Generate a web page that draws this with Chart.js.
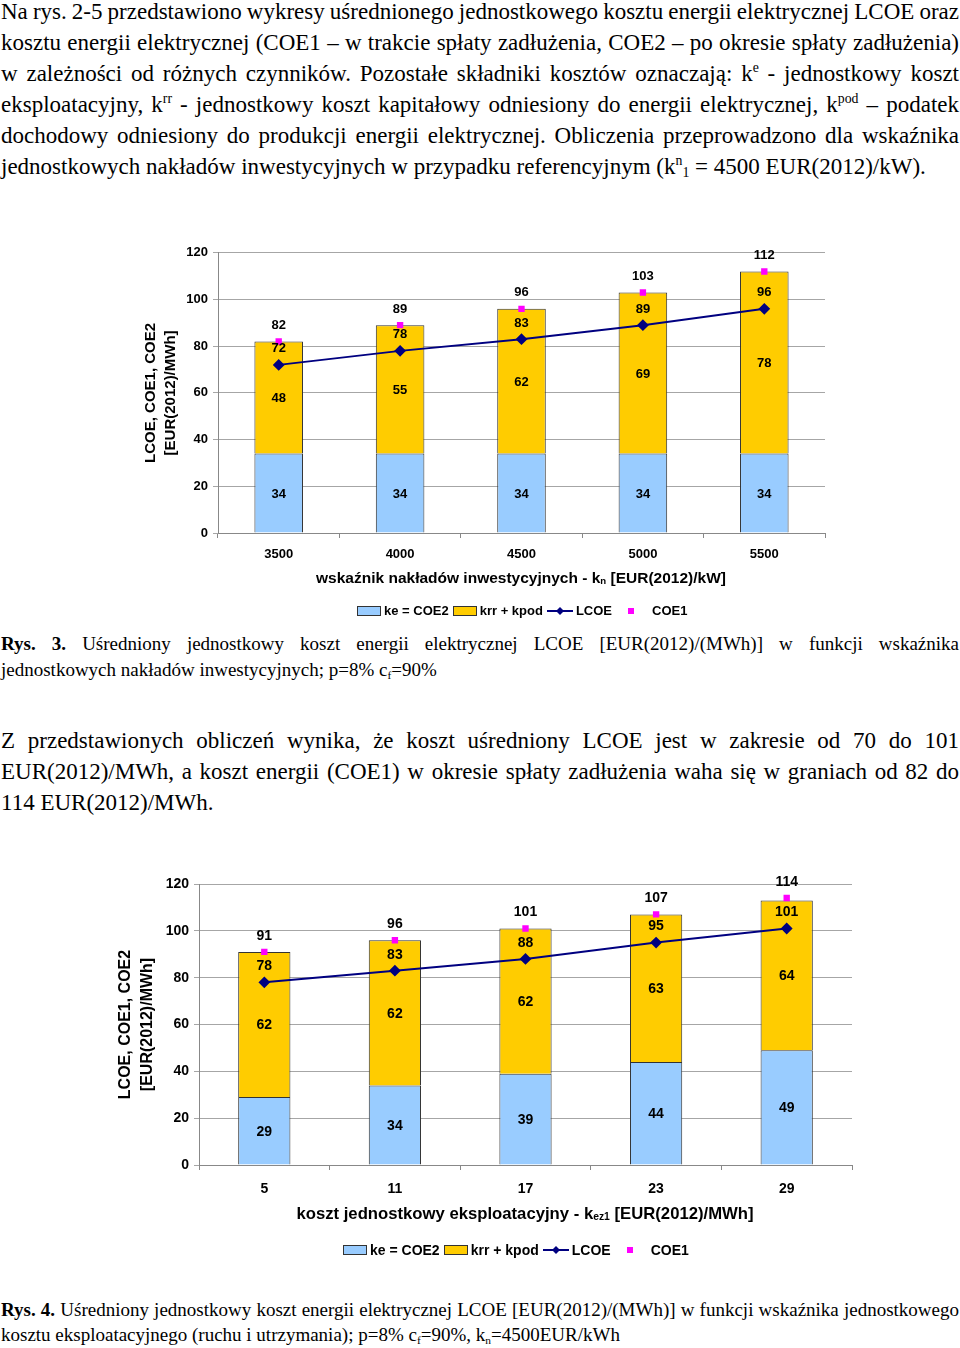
<!DOCTYPE html>
<html lang="pl">
<head>
<meta charset="utf-8">
<script src="https://cdn.jsdelivr.net/npm/chart.js@4.4.0/dist/chart.umd.min.js"></script>
<style>
  html, body { margin: 0; padding: 0; background: #fff; }
  body { width: 960px; height: 1348px; position: relative; overflow: hidden; color: #000;
         font-family: "Liberation Serif", "Times New Roman", serif; }
  .txt { position: absolute; left: 1px; width: 958px; }
  .txt div { text-align: justify; text-align-last: justify; word-spacing: -3px; }
  .txt div.last { text-align-last: left; word-spacing: 0; }
  .p { font-size: 23px; line-height: 31px; }
  .cap { font-size: 19px; }
  .sup { font-size: 0.6em; vertical-align: 0.65em; line-height: 0; }
  .sub { font-size: 0.6em; vertical-align: -0.25em; line-height: 0; }
  canvas { position: absolute; }
  .xt { position: absolute; white-space: nowrap; transform: translateX(-50%);
        font-family: "Liberation Sans", Arial, sans-serif; font-weight: bold; }
  .xt .s { font-size: 0.62em; vertical-align: -0.1em; }
  .legend { position: absolute; display: flex; align-items: center; white-space: nowrap;
            font-family: "Liberation Sans", Arial, sans-serif; font-weight: bold; }
  .legend .it { display: flex; align-items: center; margin-right: 4px; }
  .legend .box { display: inline-block; width: 22px; height: 8px; border: 1px solid #333; margin-right: 3px; }
  .legend svg { margin-right: 3px; }
</style>
</head>
<body>

<div class="txt p" style="top:-4px">
  <div>Na rys. 2-5 przedstawiono wykresy uśrednionego jednostkowego kosztu energii elektrycznej LCOE oraz</div>
  <div>kosztu energii elektrycznej (COE1 – w trakcie spłaty zadłużenia, COE2 – po okresie spłaty zadłużenia)</div>
  <div>w zależności od różnych czynników. Pozostałe składniki kosztów oznaczają: k<span class="sup">e</span> - jednostkowy koszt</div>
  <div>eksploatacyjny, k<span class="sup">rr</span> - jednostkowy koszt kapitałowy odniesiony do energii elektrycznej, k<span class="sup">pod</span> – podatek</div>
  <div>dochodowy odniesiony do produkcji energii elektrycznej. Obliczenia przeprowadzono dla wskaźnika</div>
  <div class="last">jednostkowych nakładów inwestycyjnych w przypadku referencyjnym (k<span class="sup">n</span><span class="sub">1</span> = 4500 EUR(2012)/kW).</div>
</div>

<canvas id="chart1" width="740" height="360" style="left:100px; top:240px"></canvas>
<div class="xt" style="left:521px; top:569px; font-size:15.5px; line-height:18px">wskaźnik nakładów inwestycyjnych - k<span class="s">n</span> [EUR(2012)/kW]</div>
<div class="legend" id="legend1" style="left:357px; top:602px; font-size:13px; line-height:18px"></div>

<div class="txt cap" style="top:631px; line-height:26px">
  <div><b>Rys. 3.</b> Uśredniony jednostkowy koszt energii elektrycznej LCOE [EUR(2012)/(MWh)] w funkcji wskaźnika</div>
  <div class="last">jednostkowych nakładów inwestycyjnych; p=8% c<span class="sub">f</span>=90%</div>
</div>

<div class="txt p" style="top:725px">
  <div>Z przedstawionych obliczeń wynika, że koszt uśredniony LCOE jest w zakresie od 70 do 101</div>
  <div>EUR(2012)/MWh, a koszt energii (COE1) w okresie spłaty zadłużenia waha się w graniach od 82 do</div>
  <div class="last">114 EUR(2012)/MWh.</div>
</div>

<canvas id="chart2" width="790" height="360" style="left:80px; top:870px"></canvas>
<div class="xt" style="left:525px; top:1204px; font-size:16.7px; line-height:20px">koszt jednostkowy eksploatacyjny - k<span class="s">ez1</span> [EUR(2012)/MWh]</div>
<div class="legend" id="legend2" style="left:343px; top:1240px; font-size:14px; line-height:20px"></div>

<div class="txt cap" style="top:1297px; line-height:25px">
  <div><b>Rys. 4.</b> Uśredniony jednostkowy koszt energii elektrycznej LCOE [EUR(2012)/(MWh)] w funkcji wskaźnika jednostkowego</div>
  <div class="last">kosztu eksploatacyjnego (ruchu i utrzymania); p=8% c<span class="sub">f</span>=90%, k<span class="sub">n</span>=4500EUR/kWh</div>
</div>

<script>
// wykres 1 - wskaźnik nakładów inwestycyjnych
const kn = ['3500', '4000', '4500', '5000', '5500'];
const ke1 = [34, 34, 34, 34, 34];
const krr1 = [48, 55, 62, 69, 78];
const lcoe1 = [72, 78, 83, 89, 96];
const coe1a = [82, 89, 96, 103, 112];

// wykres 2 - koszt jednostkowy eksploatacyjny
const kez = ['5', '11', '17', '23', '29'];
const ke2 = [29, 34, 39, 44, 49];
const krr2 = [62, 62, 62, 63, 64];
const lcoe2 = [78, 83, 88, 95, 101];
const coe1b = [91, 96, 101, 107, 114];

const yMin = 0, yMax = 120, yStep = 20;
const seriesNames = ['ke = COE2', 'krr + kpod', 'LCOE', 'COE1'];

const BLUE = '#99ccff', YELLOW = '#ffcc00', NAVY = '#000080', MAGENTA = '#ff00ff';
const SANS = '"Liberation Sans", Arial, sans-serif';

// podpisy wartości nad punktami i w środku słupków
const valueLabels = {
    id: 'valueLabels',
    afterDatasetsDraw(chart, args, opts) {
        const ctx = chart.ctx;
        ctx.save();
        ctx.font = 'bold ' + opts.size + 'px ' + SANS;
        ctx.fillStyle = '#000';
        ctx.textAlign = 'center';
        ctx.textBaseline = 'middle';
        chart.data.datasets.forEach((ds, i) => {
            const meta = chart.getDatasetMeta(i);
            meta.data.forEach((el, j) => {
                const y = meta.type === 'bar' ? (el.y + el.base) / 2 : el.y - opts.above;
                ctx.fillText(String(ds.data[j]), el.x, y + 1);
            });
        });
        ctx.restore();
    }
};

function makeChart(id, labels, ke, krr, lcoe, coe1, s) {
    const ctx = document.getElementById(id).getContext('2d');
    return new Chart(ctx, {
        type: 'bar',
        data: {
            labels: labels,
            datasets: [
                { label: seriesNames[0], data: ke, backgroundColor: BLUE, borderColor: '#333', borderWidth: 1,
                  stack: 'bars', order: 2, barPercentage: 0.4, categoryPercentage: 1 },
                { label: seriesNames[1], data: krr, backgroundColor: YELLOW, borderColor: '#333', borderWidth: 1,
                  stack: 'bars', order: 2, barPercentage: 0.4, categoryPercentage: 1 },
                { type: 'line', label: seriesNames[2], data: lcoe, borderColor: NAVY, borderWidth: 2,
                  pointStyle: 'rectRot', pointRadius: 4.5, pointBackgroundColor: NAVY, pointBorderColor: NAVY,
                  stack: 'lcoe', order: 1, tension: 0 },
                { type: 'line', label: seriesNames[3], data: coe1, showLine: false,
                  pointStyle: 'rect', pointRadius: 4.5, pointBackgroundColor: MAGENTA, pointBorderColor: MAGENTA,
                  pointBorderWidth: 0, stack: 'coe1', order: 0 }
            ]
        },
        options: {
            responsive: false,
            animation: false,
            layout: { padding: s.pad },
            plugins: {
                legend: { display: false },
                tooltip: { enabled: false },
                valueLabels: { size: s.font, above: s.above }
            },
            scales: {
                x: {
                    stacked: true,
                    offset: true,
                    grid: { offset: true, drawOnChartArea: false, drawTicks: true, tickLength: 5, color: '#888' },
                    border: { color: '#888' },
                    ticks: { color: '#000', padding: s.xPad, font: { family: SANS, size: s.font, weight: 'bold' } },
                    afterFit(sc) { sc.height = s.xHeight; }
                },
                y: {
                    stacked: true,
                    min: yMin, max: yMax,
                    grid: { color: '#a6a6a6', tickLength: 5 },
                    border: { color: '#888' },
                    ticks: { stepSize: yStep, color: '#000', padding: 5, font: { family: SANS, size: s.font, weight: 'bold' } },
                    title: {
                        display: true,
                        text: ['LCOE, COE1, COE2', '[EUR(2012)/MWh]'],
                        color: '#000',
                        padding: { top: s.titlePad, bottom: 0 },
                        font: { family: SANS, size: s.titleSize, weight: 'bold', lineHeight: s.titleLine / s.titleSize }
                    },
                    afterFit(sc) { sc.width = s.yWidth; }
                }
            }
        },
        plugins: [valueLabels]
    });
}

function buildLegend(elId, chart) {
    const el = document.getElementById(elId);
    chart.data.datasets.forEach(ds => {
        const item = document.createElement('span');
        item.className = 'it';
        let sw;
        if (ds.type === 'line' && ds.showLine !== false) {
            sw = '<svg width="26" height="10"><line x1="0" y1="5" x2="26" y2="5" stroke="' + ds.borderColor +
                 '" stroke-width="2"/><polygon points="13,1 17,5 13,9 9,5" fill="' + ds.pointBackgroundColor + '"/></svg>';
        } else if (ds.type === 'line') {
            sw = '<svg width="30" height="10" style="margin-right:6px"><rect x="12" y="2" width="6" height="6" fill="' +
                 ds.pointBackgroundColor + '"/></svg>';
        } else {
            sw = '<span class="box" style="background:' + ds.backgroundColor + '"></span>';
        }
        item.innerHTML = sw + '<span>' + ds.label + '</span>';
        el.appendChild(item);
    });
}

const chart1 = makeChart('chart1', kn, ke1, krr1, lcoe1, coe1a, {
    pad: { left: 0, right: 15, top: 12, bottom: 0 },
    font: 13, above: 17, xPad: 9, xHeight: 67, yWidth: 118,
    titleSize: 15, titleLine: 20, titlePad: 41
});
const chart2 = makeChart('chart2', kez, ke2, krr2, lcoe2, coe1b, {
    pad: { left: 0, right: 18, top: 14, bottom: 0 },
    font: 14, above: 17, xPad: 11, xHeight: 65, yWidth: 119,
    titleSize: 16, titleLine: 22, titlePad: 35
});
buildLegend('legend1', chart1);
buildLegend('legend2', chart2);
</script>
</body>
</html>
